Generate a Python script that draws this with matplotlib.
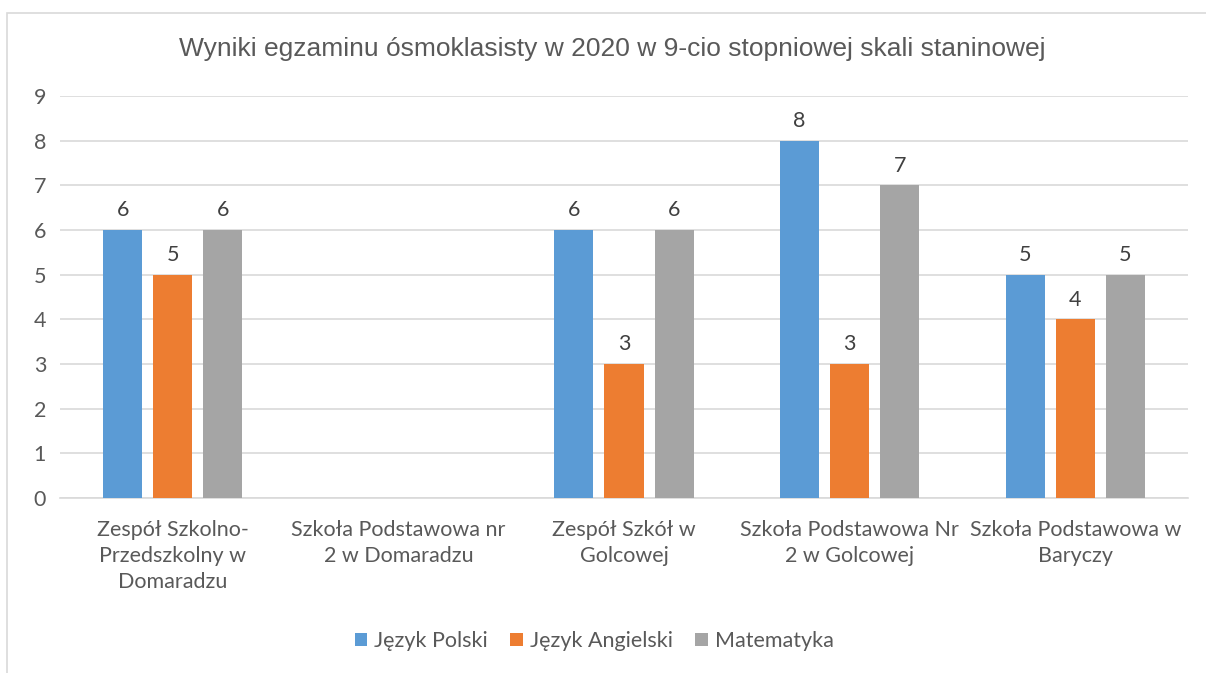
import matplotlib
matplotlib.use("Agg")
import matplotlib.pyplot as plt
import numpy as np
from matplotlib.patches import Rectangle

categories = ["Zespół Szkolno-\nPrzedszkolny w\nDomaradzu",
              "Szkoła Podstawowa nr\n2 w Domaradzu",
              "Zespół Szkół w\nGolcowej",
              "Szkoła Podstawowa Nr\n2 w Golcowej",
              "Szkoła Podstawowa w\nBaryczy"]
series_names = ["Język Polski", "Język Angielski", "Matematyka"]
polski = [6, np.nan, 6, 8, 5]
angielski = [5, np.nan, 3, 3, 4]
matematyka = [6, np.nan, 6, 7, 5]
colors = ["#5B9BD5", "#ED7D31", "#A5A5A5"]
title = "Wyniki egzaminu ósmoklasisty w 2020 w 9-cio stopniowej skali staninowej"

plt.rcParams['font.family'] = ['Lato', 'DejaVu Sans']
txt = "#595959"
fs = 15.5

fig = plt.figure(figsize=(12.06, 6.73), dpi=100)
fig.patches.append(Rectangle((7/1206, -0.1), 1.2, 1 - 13/673 + 0.1, transform=fig.transFigure,
                             fill=False, edgecolor="#D9D9D9", linewidth=1.2))
ax = fig.add_axes([60/1206, 1 - 498/673, (1188 - 60)/1206, (498 - 96)/673])

x = np.arange(len(categories))
w = 0.173
off = 0.222
for i, (vals, c, name) in enumerate(zip([polski, angielski, matematyka], colors, series_names)):
    ax.bar(x + (i - 1) * off, vals, width=w, color=c, label=name, zorder=3)
    for xi, v in zip(x + (i - 1) * off, vals):
        if not np.isnan(v):
            ax.annotate(f"{int(v)}", (xi, v), xytext=(0, 7), textcoords="offset points",
                        ha="center", va="bottom", fontsize=fs, color="#404040")

ax.set_xlim(-0.5, len(categories) - 0.5)
ax.set_ylim(0, 9)
ax.set_yticks(range(10))
ax.yaxis.grid(True, color="#D9D9D9", linewidth=1.2, zorder=0)
ax.set_axisbelow(True)
for s in ["top", "right", "left"]:
    ax.spines[s].set_visible(False)
ax.spines["bottom"].set_color("#D9D9D9")
ax.spines["bottom"].set_linewidth(1.2)
ax.tick_params(axis="both", length=0, labelsize=fs, colors=txt)
ax.tick_params(axis="y", pad=10)
ax.tick_params(axis="x", pad=16)
ax.set_xticks(x)
ax.set_xticklabels(categories, linespacing=1.36)

fig.text(612/1206, 1 - 49/673, title, ha="center", va="center", fontsize=19,
         color=txt, family=["Liberation Sans", "DejaVu Sans"])

leg = fig.legend(loc="center", bbox_to_anchor=(594/1206, 1 - 641/673), ncol=3, frameon=False,
                 fontsize=fs, handlelength=0.6, handleheight=0.6, columnspacing=1.05,
                 handletextpad=0.3)
for t in leg.get_texts():
    t.set_color(txt)

fig.savefig("out.png", dpi=100)
